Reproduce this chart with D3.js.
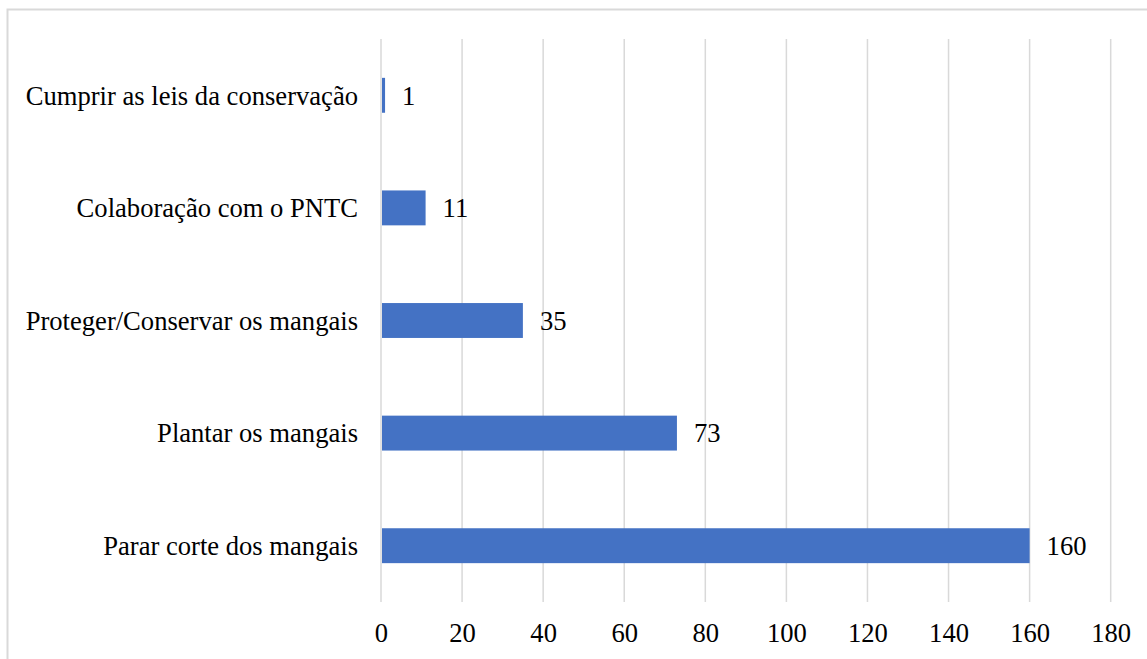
<!DOCTYPE html>
<html><head><meta charset="utf-8">
<script src="https://cdn.jsdelivr.net/npm/d3@7"></script>
<style>
html,body{margin:0;padding:0;background:#fff;}
svg{display:block;}
</style></head>
<body>
<svg id="chart" width="1147" height="659"></svg>
<script>
const categories = ["Cumprir as leis da conservação","Colaboração com o PNTC","Proteger/Conservar os mangais","Plantar os mangais","Parar corte dos mangais"];
const values = [1, 11, 35, 73, 160];
const xTicks = [0,20,40,60,80,100,120,140,160,180];

(function(){
const FONT = "Liberation Serif";
const FS = 26.6;
const svg = d3.select("#chart");
const W = 1147, H = 659;
const plotLeft = 381, plotRight = 1110.7, plotTop = 39, plotBottom = 602;

// outer border (top and left visible)
svg.append("path").attr("d", `M7.5,${H} L7.5,9.5 L${W},9.5`).attr("fill","none").attr("stroke","#d9d9d9").attr("stroke-width",2);

const x = d3.scaleLinear().domain([0,180]).range([plotLeft,plotRight]);
const y = d3.scaleBand().domain(categories).range([plotTop,plotBottom]).paddingInner(0.69).paddingOuter(0.345);

// gridlines
svg.append("g").selectAll("line").data(xTicks).join("line")
  .attr("x1",d=>x(d)).attr("x2",d=>x(d)).attr("y1",plotTop).attr("y2",plotBottom)
  .attr("stroke","#d9d9d9").attr("stroke-width",1.5);

// bars
svg.append("g").selectAll("rect").data(values).join("rect")
  .attr("x",x(0)+1).attr("y",(d,i)=>y(categories[i]))
  .attr("width",d=>x(d)-x(0)-1).attr("height",y.bandwidth())
  .attr("fill","#4472C4");

// value labels
svg.append("g").attr("font-family",FONT).attr("font-size",FS).selectAll("text").data(values).join("text")
  .attr("x",d=>x(d)+17).attr("y",(d,i)=>y(categories[i])+y.bandwidth()/2)
  .attr("dy","0.35em").attr("fill","#000").text(d=>d);

// category labels
svg.append("g").attr("font-family",FONT).attr("font-size",FS).selectAll("text").data(categories).join("text")
  .attr("x",plotLeft-23).attr("y",d=>y(d)+y.bandwidth()/2)
  .attr("dy","0.35em").attr("text-anchor","end").attr("fill","#000").text(d=>d);

// x axis tick labels
const xAxis = d3.axisBottom(x).tickValues(xTicks).tickSize(0).tickPadding(0);
const ax = svg.append("g").attr("transform",`translate(0,${plotBottom})`).call(xAxis)
  .attr("font-family",FONT).attr("font-size",FS);
ax.select(".domain").remove();
ax.selectAll("text").attr("fill","#000").attr("y",40).attr("dy",0);
})();
</script>
</body></html>
